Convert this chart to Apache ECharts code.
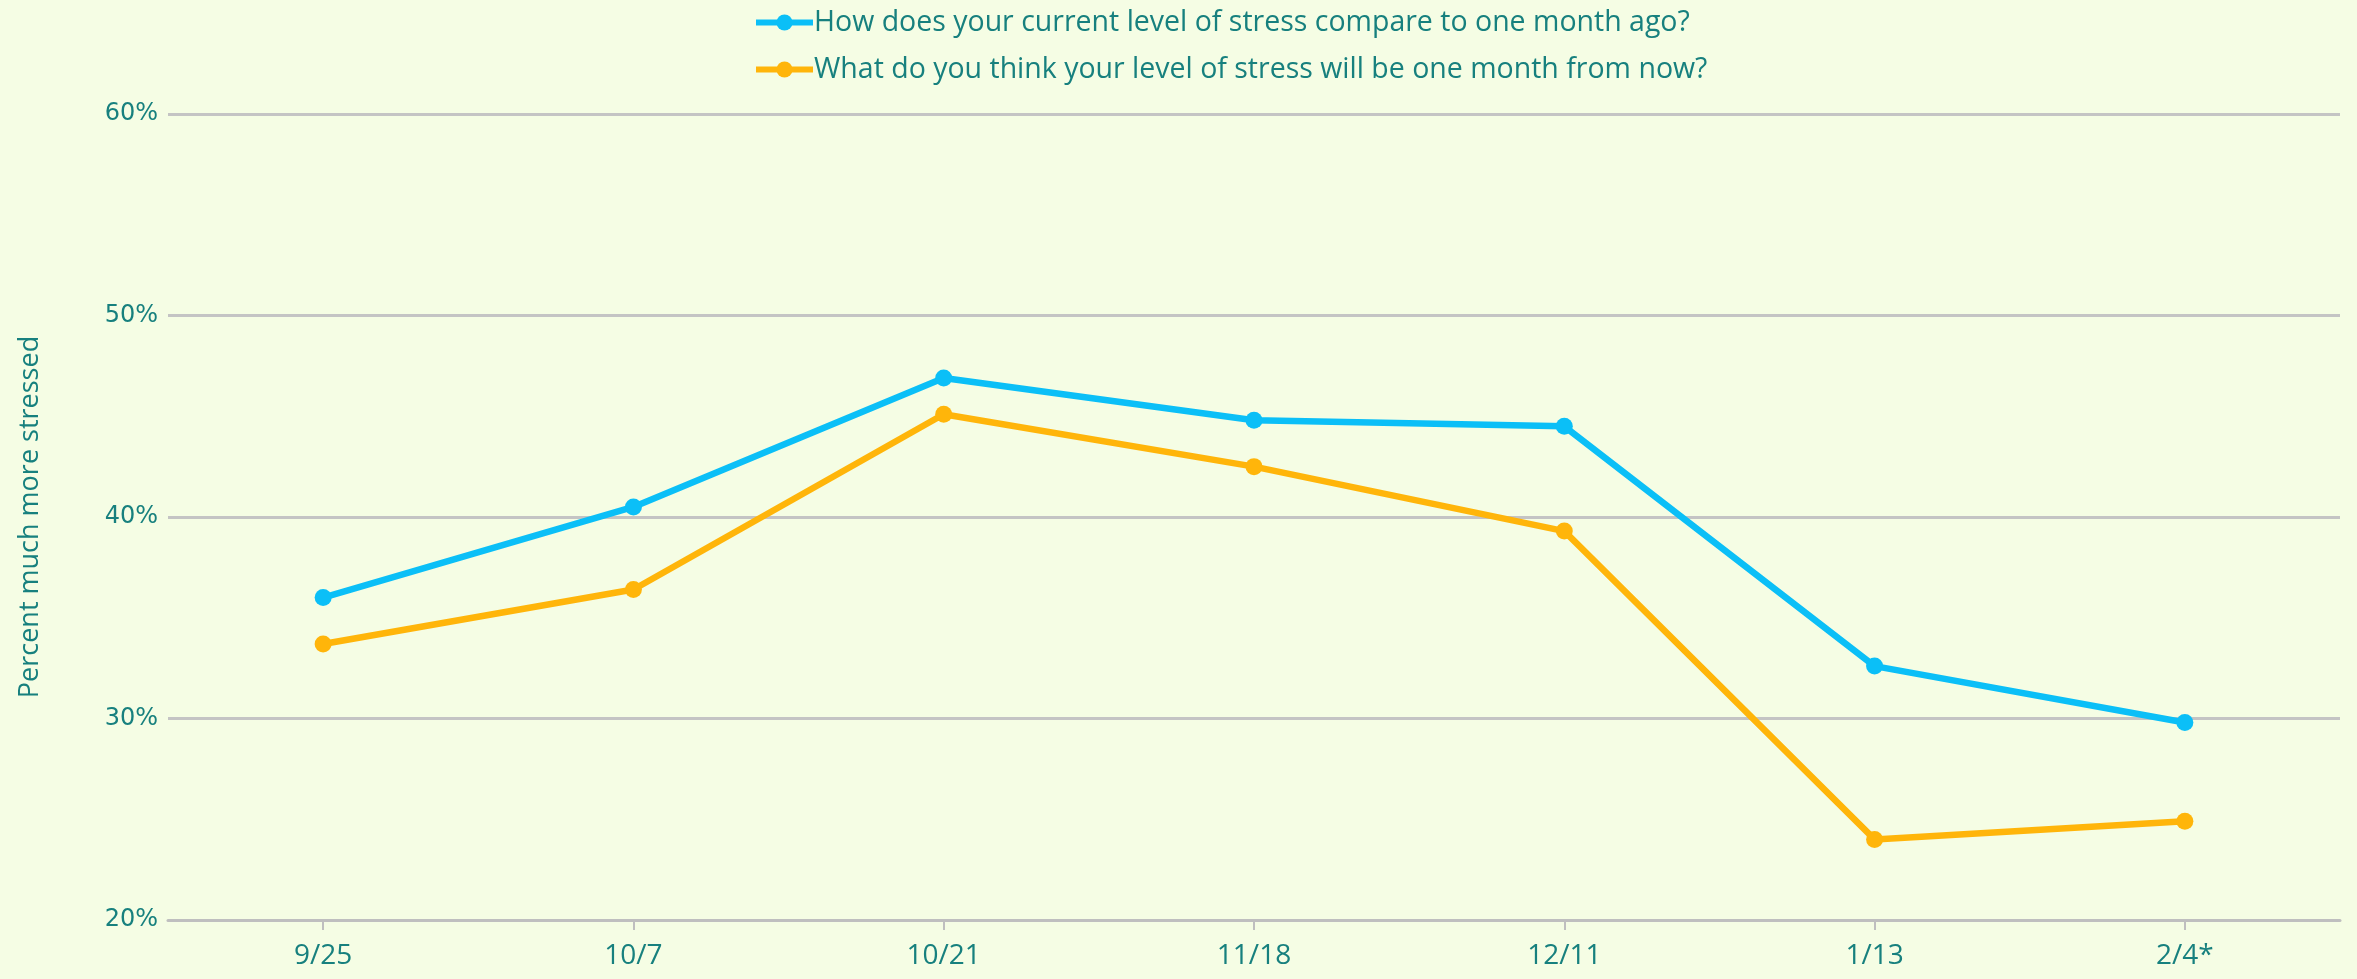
<!DOCTYPE html>
<html>
<head>
<meta charset="utf-8">
<script src="https://cdn.jsdelivr.net/npm/echarts@6/dist/echarts.min.js"></script>
<style>
  html, body { margin: 0; padding: 0; background: #F5FDE4; }
  #chart { width: 2357px; height: 979px; }
</style>
</head>
<body>
<div id="chart"></div>
<script>
const categories = ['9/25', '10/7', '10/21', '11/18', '12/11', '1/13', '2/4*']
const currentVsMonthAgo = [36.0, 40.5, 46.9, 44.8, 44.5, 32.6, 29.8]
const nextMonthOutlook = [33.7, 36.4, 45.1, 42.5, 39.3, 24.0, 24.9]
const seriesNames = [
  'How does your current level of stress compare to one month ago?',
  'What do you think your level of stress will be one month from now?'
]

const TEAL = '#17807E'
const TEXT_FONT = '"Open Sans", sans-serif'

const chart = echarts.init(document.getElementById('chart'))

function lineSeries(name, data, color) {
  return {
    name,
    type: 'line',
    data,
    symbol: 'circle',
    symbolSize: 17,
    showSymbol: true,
    animation: false,
    lineStyle: { width: 6.5, color },
    itemStyle: { color }
  }
}

chart.setOption({
  backgroundColor: '#F5FDE4',
  legend: {
    orient: 'vertical',
    left: 748,
    top: 3,
    itemWidth: 57,
    itemHeight: 20,
    itemGap: 18,
    lineStyle: { width: 6 },
    textStyle: { color: TEAL, fontSize: 28.5, fontFamily: TEXT_FONT, padding: [0, 0, 0, -4] }
  },
  grid: { left: 168, right: 17, top: 114, bottom: 59, outerBoundsMode: 'none' },
  xAxis: {
    type: 'category',
    data: categories,
    boundaryGap: true,
    axisLine: { lineStyle: { color: '#BFBFBF', width: 3 } },
    axisTick: { show: true, alignWithLabel: true, length: 10, lineStyle: { color: '#BFBFBF', width: 2 } },
    axisLabel: { color: TEAL, fontSize: 28, fontFamily: TEXT_FONT, margin: 22 }
  },
  yAxis: {
    type: 'value',
    min: 20,
    max: 60,
    interval: 10,
    name: 'Percent much more stressed',
    nameLocation: 'middle',
    nameGap: 124,
    nameMoveOverlap: false,
    nameTextStyle: { color: TEAL, fontSize: 27, fontFamily: TEXT_FONT },
    axisLine: { show: false },
    axisTick: { show: false },
    axisLabel: {
      color: TEAL,
      fontSize: 24,
      fontFamily: '"DejaVu Sans", sans-serif',
      align: 'right',
      margin: 10,
      formatter: (v) => v + '%'
    },
    splitLine: { lineStyle: { color: '#C4C4C4', width: 3 } }
  },
  series: [
    lineSeries(seriesNames[0], currentVsMonthAgo, '#0BBFF7'),
    lineSeries(seriesNames[1], nextMonthOutlook, '#FFB50A')
  ]
})
</script>
</body>
</html>
